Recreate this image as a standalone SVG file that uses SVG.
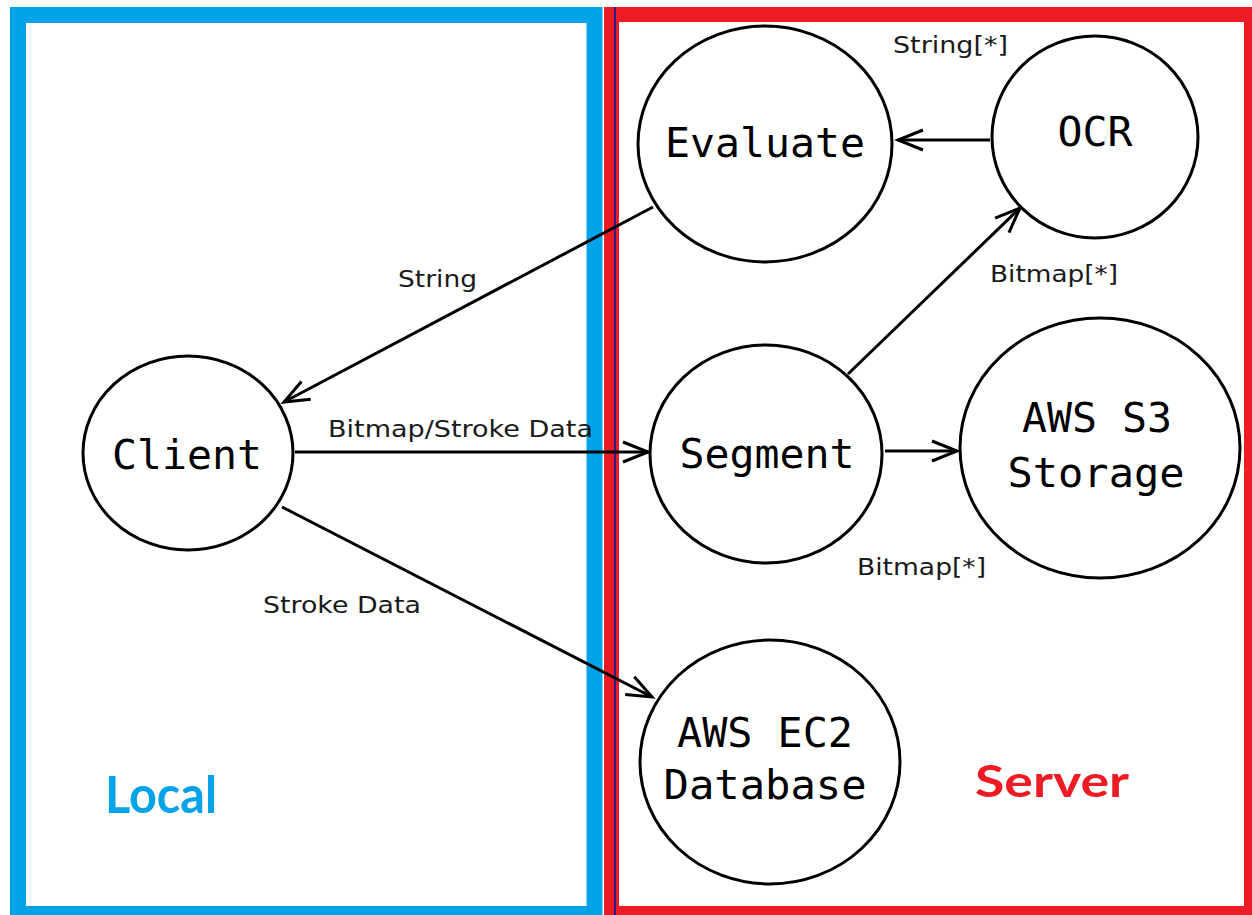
<svg xmlns="http://www.w3.org/2000/svg" width="1252" height="915" viewBox="0 0 1252 915">
<style>
.node ellipse{fill:#fff;stroke:#000;stroke-width:3}
.node text{font-family:"DejaVu Sans Mono",monospace;font-size:40px;fill:#000;text-anchor:middle}
.lbl{font-family:"DejaVu Sans",sans-serif;font-size:23px;fill:#1a1a1a}
.edge{stroke:#000;stroke-width:3;fill:none;marker-end:url(#arr)}
</style>
<defs>
<marker id="arr" markerUnits="userSpaceOnUse" viewBox="-30 -14 34 28" refX="0" refY="0" markerWidth="34" markerHeight="28" orient="auto">
<path d="M-25,-10 L0,0 L-25,10" fill="none" stroke="#000" stroke-width="3"/>
</marker>
</defs>
<rect width="1252" height="915" fill="#fff"/>
<g id="frames">
<rect x="18" y="15" width="576.5" height="899" fill="none" stroke="#00A2E8" stroke-width="16"/>
<rect x="611.5" y="14.5" width="640" height="899" fill="none" stroke="#ED1C24" stroke-width="15"/>
<line x1="615" y1="7" x2="615" y2="915" stroke="#2B1B8F" stroke-width="2"/>
<text x="105" y="813" font-family="Lato,'Open Sans',sans-serif" font-weight="bold" font-size="51" fill="#00A2E8" textLength="112" lengthAdjust="spacingAndGlyphs">Local</text>
<text x="975" y="797" font-family="Lato,'Open Sans',sans-serif" font-weight="bold" font-size="43" fill="#ED1C24" textLength="154" lengthAdjust="spacingAndGlyphs">Server</text>
</g>
<g id="connectors">
<line class="edge" x1="990" y1="140" x2="898" y2="140"/>
<line class="edge" x1="653" y1="207" x2="284" y2="402"/>
<line class="edge" x1="295" y1="452" x2="648" y2="452"/>
<line class="edge" x1="282" y1="507" x2="652" y2="697"/>
<line class="edge" x1="848" y1="374" x2="1020" y2="208"/>
<line class="edge" x1="885" y1="451" x2="957" y2="451"/>
<text class="lbl" x="893" y="53" textLength="115" lengthAdjust="spacingAndGlyphs">String[*]</text>
<text class="lbl" x="398" y="287" textLength="79" lengthAdjust="spacingAndGlyphs">String</text>
<text class="lbl" x="328" y="437" textLength="265" lengthAdjust="spacingAndGlyphs">Bitmap/Stroke Data</text>
<text class="lbl" x="990" y="282" textLength="128" lengthAdjust="spacingAndGlyphs">Bitmap[*]</text>
<text class="lbl" x="857" y="575" textLength="129" lengthAdjust="spacingAndGlyphs">Bitmap[*]</text>
<text class="lbl" x="263" y="613" textLength="158" lengthAdjust="spacingAndGlyphs">Stroke Data</text>
</g>
<g id="evaluate" class="node">
<ellipse cx="765" cy="144" rx="127" ry="118"/>
<text x="765" y="157" textLength="200" lengthAdjust="spacingAndGlyphs">Evaluate</text>
</g>
<g id="ocr" class="node">
<ellipse cx="1095" cy="137" rx="103" ry="101"/>
<text x="1095" y="146" textLength="75" lengthAdjust="spacingAndGlyphs">OCR</text>
</g>
<g id="client" class="node">
<ellipse cx="188" cy="453" rx="105" ry="97"/>
<text x="187" y="469" textLength="150" lengthAdjust="spacingAndGlyphs">Client</text>
</g>
<g id="segment" class="node">
<ellipse cx="766" cy="454" rx="116" ry="109"/>
<text x="767" y="468" textLength="175" lengthAdjust="spacingAndGlyphs">Segment</text>
</g>
<g id="s3" class="node">
<ellipse cx="1100" cy="448" rx="140" ry="130"/>
<text x="1097" y="432" textLength="150" lengthAdjust="spacingAndGlyphs">AWS S3</text>
<text x="1096" y="487" textLength="177" lengthAdjust="spacingAndGlyphs">Storage</text>
</g>
<g id="ec2" class="node">
<ellipse cx="770" cy="762" rx="130" ry="122"/>
<text x="765" y="747" textLength="176" lengthAdjust="spacingAndGlyphs">AWS EC2</text>
<text x="765" y="799" textLength="203" lengthAdjust="spacingAndGlyphs">Database</text>
</g>
</svg>
